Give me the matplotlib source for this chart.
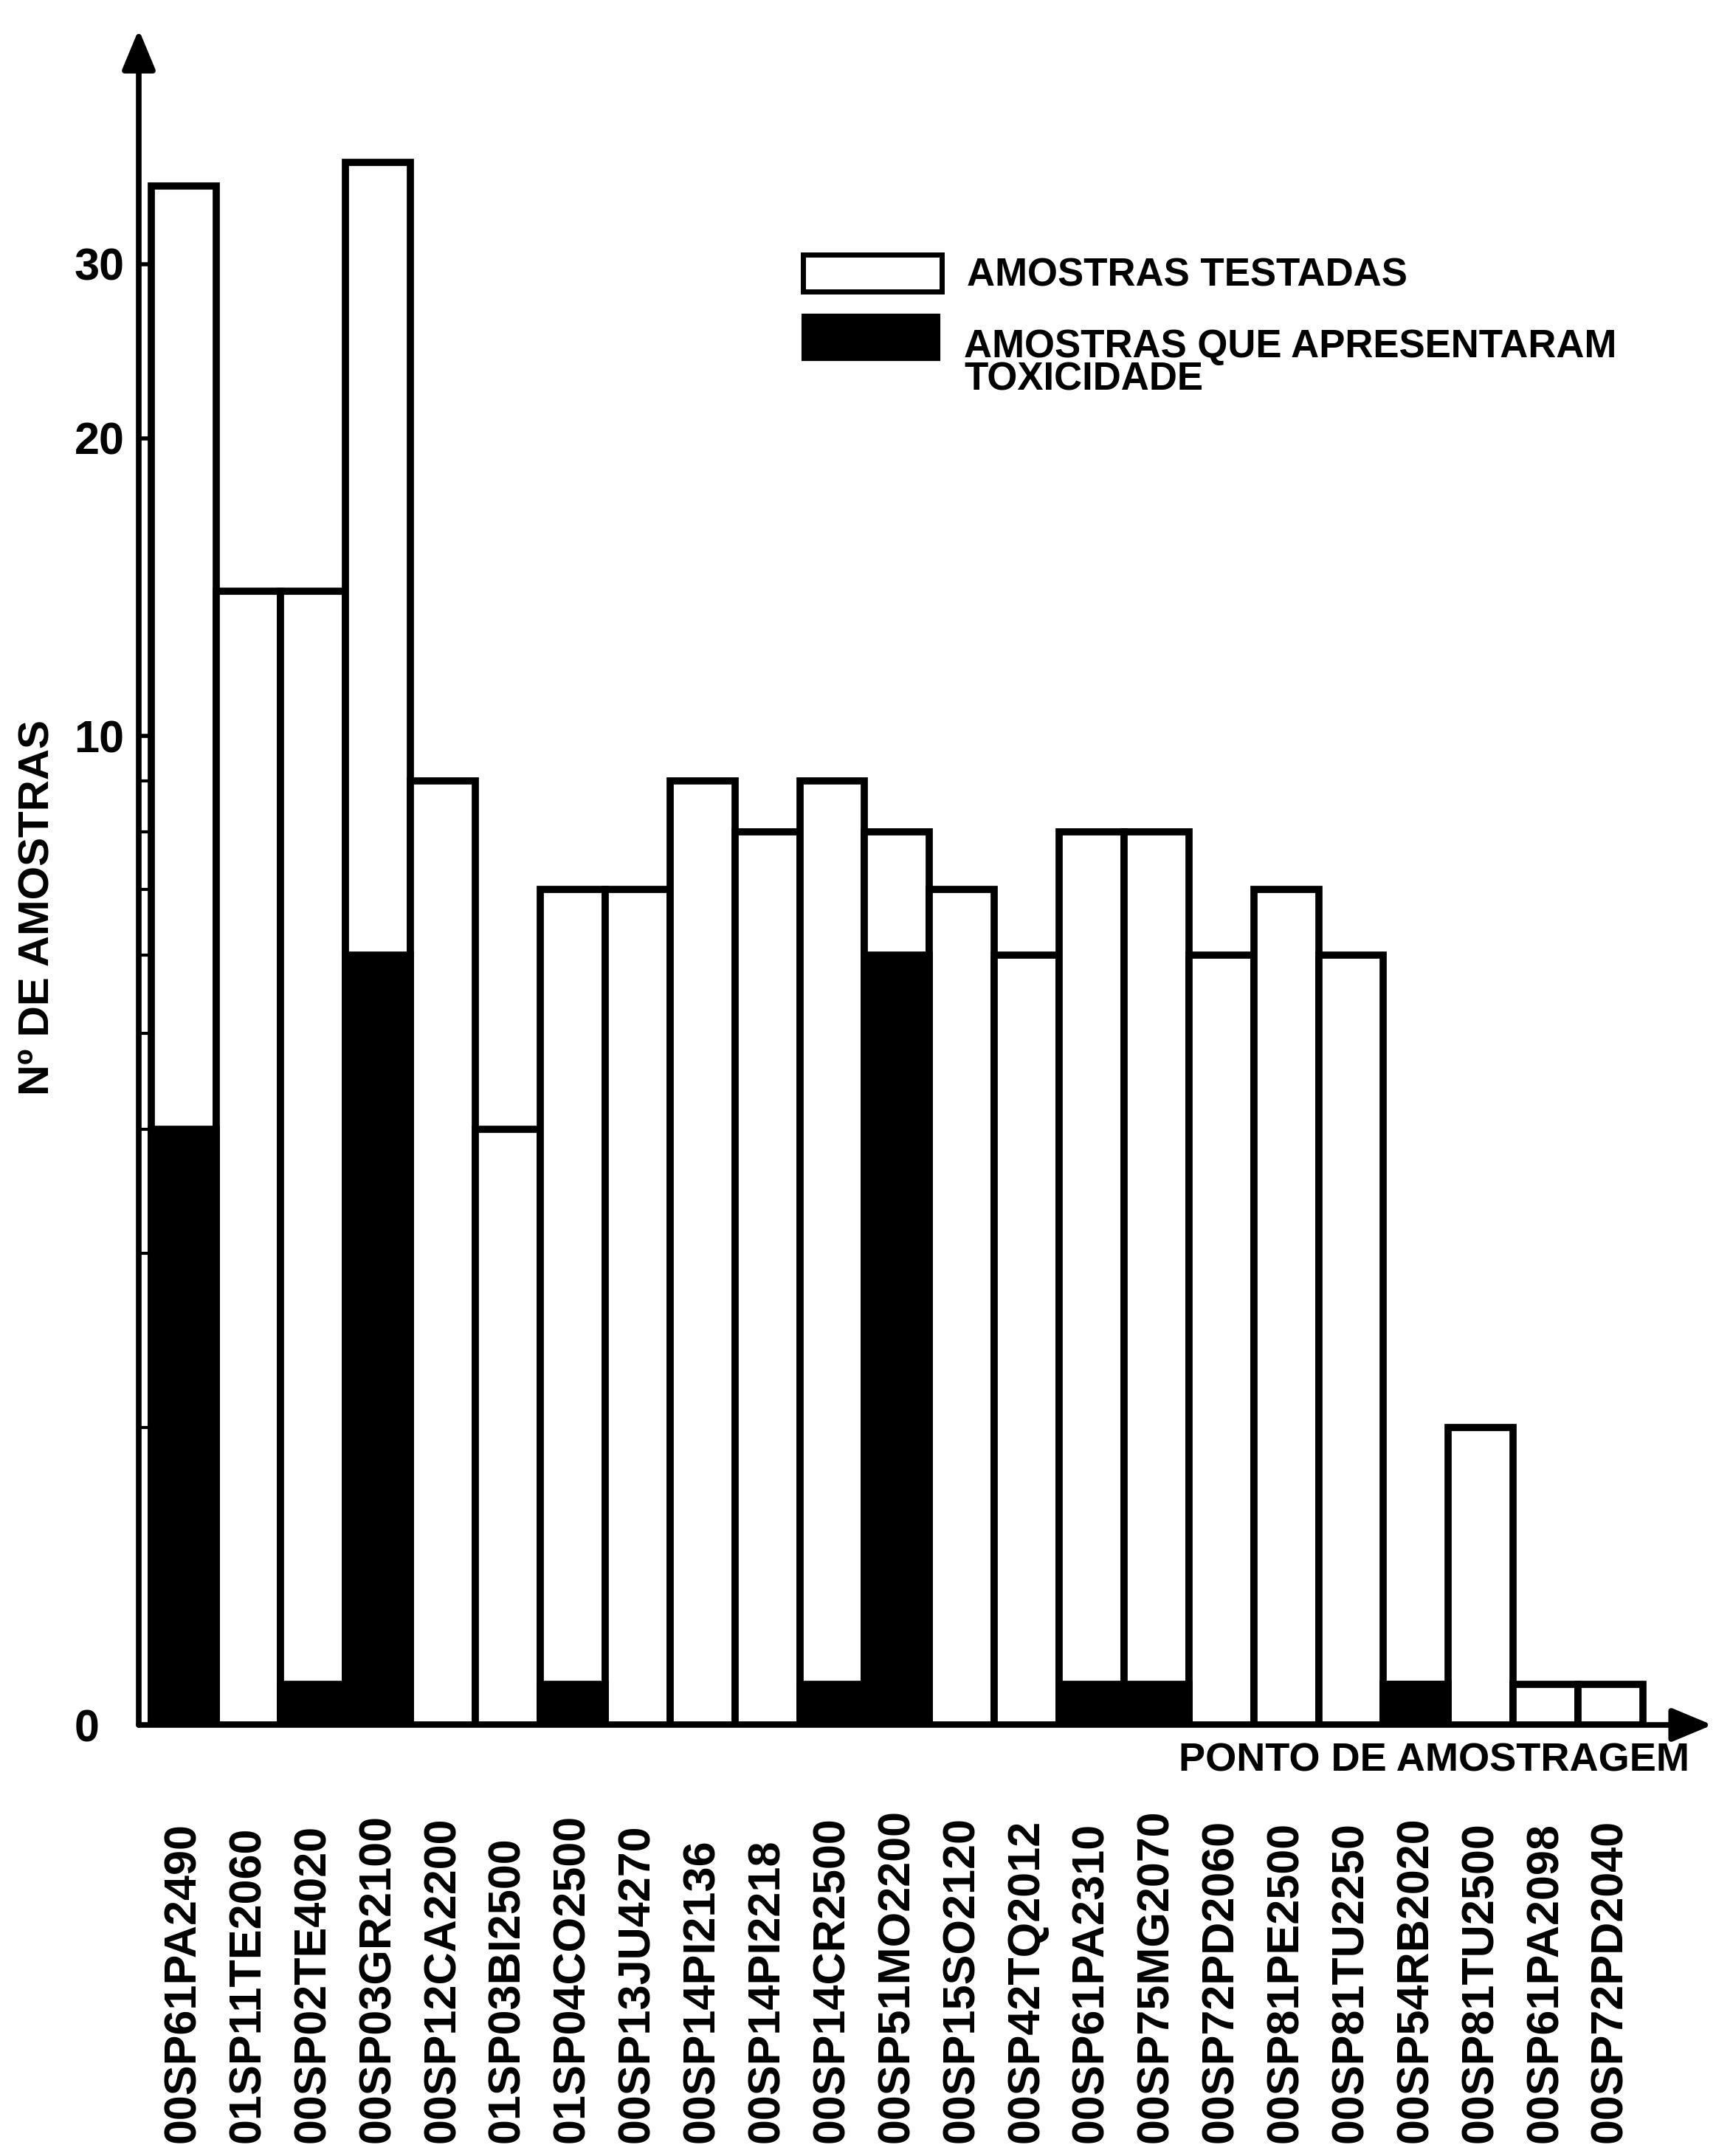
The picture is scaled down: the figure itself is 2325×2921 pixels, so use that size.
import matplotlib
matplotlib.use("Agg")
import matplotlib.pyplot as plt
import numpy as np
from matplotlib import transforms
from matplotlib.patches import Rectangle

# Sampling points (station codes)
stations = [
    "00SP61PA2490", "01SP11TE2060", "00SP02TE4020", "00SP03GR2100",
    "00SP12CA2200", "01SP03BI2500", "01SP04CO2500", "00SP13JU4270",
    "00SP14PI2136", "00SP14PI2218", "00SP14CR2500", "00SP51MO2200",
    "00SP15SO2120", "00SP42TQ2012", "00SP61PA2310", "00SP75MG2070",
    "00SP72PD2060", "00SP81PE2500", "00SP81TU2250", "00SP54RB2020",
    "00SP81TU2500", "00SP61PA2098", "00SP72PD2040",
]
# Number of samples tested at each point
tested = [36, 14, 14, 38, 9, 4, 7, 7, 9, 8, 9, 8, 7, 6, 8, 8, 6, 7, 6, 1.1, 2, 1.1, 1.1]
# Number of samples that showed toxicity (0 = none)
toxic = [4, 0, 1.1, 6, 0, 0, 1.1, 0, 0, 0, 1.1, 6, 0, 0, 1.1, 1.1, 0, 0, 0, 1.1, 0, 0, 0]

ytick_values = [1, 10, 20, 30]
ytick_labels = ["0", "10", "20", "30"]
yminor_values = [2, 3, 4, 5, 6, 7, 8, 9]

legend_tested = "AMOSTRAS TESTADAS"
legend_toxic = "AMOSTRAS QUE APRESENTARAM\nTOXICIDADE"
xlabel = "PONTO DE AMOSTRAGEM"
ylabel = "Nº DE AMOSTRAS"

W, H = 2325, 2921
fig = plt.figure(figsize=(W / 100, H / 100), dpi=100, facecolor="white")


def fx(px):
    return px / W


def fy(py):
    return 1 - py / H


BOLD = ["Liberation Sans", "DejaVu Sans"]

ax = fig.add_axes([fx(188), fy(2337), fx(2320) - fx(188), fy(40) - fy(2337)])
ax.set_yscale("log")
ax.set_ylim(1, 10 ** ((2337 - 40) / 1340))
ax.set_xlim(-0.69, 23.57)
for s in ax.spines.values():
    s.set_visible(False)

x = np.arange(len(stations))
tested_a = np.array(tested, dtype=float)
toxic_a = np.array(toxic, dtype=float)

ax.bar(x, tested_a - 1, bottom=1, width=1.0, color="white",
       edgecolor="black", linewidth=7, zorder=2)
has_tox = toxic_a > 0
ax.bar(x[has_tox], toxic_a[has_tox] - 1, bottom=1, width=1.0, color="black",
       edgecolor="black", linewidth=7, zorder=3)

# Axes drawn as arrows
arrow_kw = dict(arrowstyle="-|>,head_length=0.6,head_width=0.25", color="black",
                lw=5.5, mutation_scale=55, shrinkA=0, shrinkB=0)
ax.annotate("", xy=(0, 1), xytext=(0, 0), xycoords="axes fraction",
            textcoords="axes fraction", arrowprops=arrow_kw,
            annotation_clip=False, zorder=5)
ax.annotate("", xy=(1, 0), xytext=(0, 0), xycoords="axes fraction",
            textcoords="axes fraction", arrowprops=arrow_kw,
            annotation_clip=False, zorder=5)

# Y ticks
ax.set_yticks(ytick_values, labels=ytick_labels)
ax.set_yticks(yminor_values, labels=[""] * len(yminor_values), minor=True)
ax.tick_params(axis="y", which="major", direction="in", length=18, width=4,
               pad=63, labelsize=44)
ax.tick_params(axis="y", which="minor", direction="in", length=9, width=3)
for lbl in ax.get_yticklabels():
    lbl.set_fontweight("bold")
    lbl.set_family(BOLD)
    lbl.set_horizontalalignment("left")
ax.set_xticks([])

# Station labels under each bar
lab_tr = transforms.blended_transform_factory(ax.transData, fig.transFigure)
for xi, name in zip(x, stations):
    ax.text(xi, fy(2903), name, transform=lab_tr, rotation=90, ha="center",
            va="bottom", fontsize=44, fontweight="bold", family=BOLD,
            clip_on=False)

# Axis titles
fig.text(fx(1597), fy(2386), xlabel, ha="left", va="center", fontsize=39,
         fontweight="bold", family=BOLD)
fig.text(fx(52), fy(975), ylabel, rotation=90, ha="center", va="top",
         fontsize=42, fontweight="bold", family=BOLD)

# Legend
fig.patches.append(Rectangle((fx(1088), fy(395)), fx(1276) - fx(1088),
                             fy(345) - fy(395), transform=fig.transFigure,
                             facecolor="white", edgecolor="black", lw=5))
fig.patches.append(Rectangle((fx(1088), fy(487)), fx(1272) - fx(1088),
                             fy(427) - fy(487), transform=fig.transFigure,
                             facecolor="black", edgecolor="black", lw=3))
fig.text(fx(1310), fy(373), legend_tested, ha="left", va="center",
         fontsize=38, fontweight="bold", family=BOLD)
fig.text(fx(1306), fy(445), legend_toxic, ha="left", va="top",
         fontsize=38, fontweight="bold", family=BOLD, linespacing=0.85)

fig.savefig("out.png", dpi=100, facecolor="white")
